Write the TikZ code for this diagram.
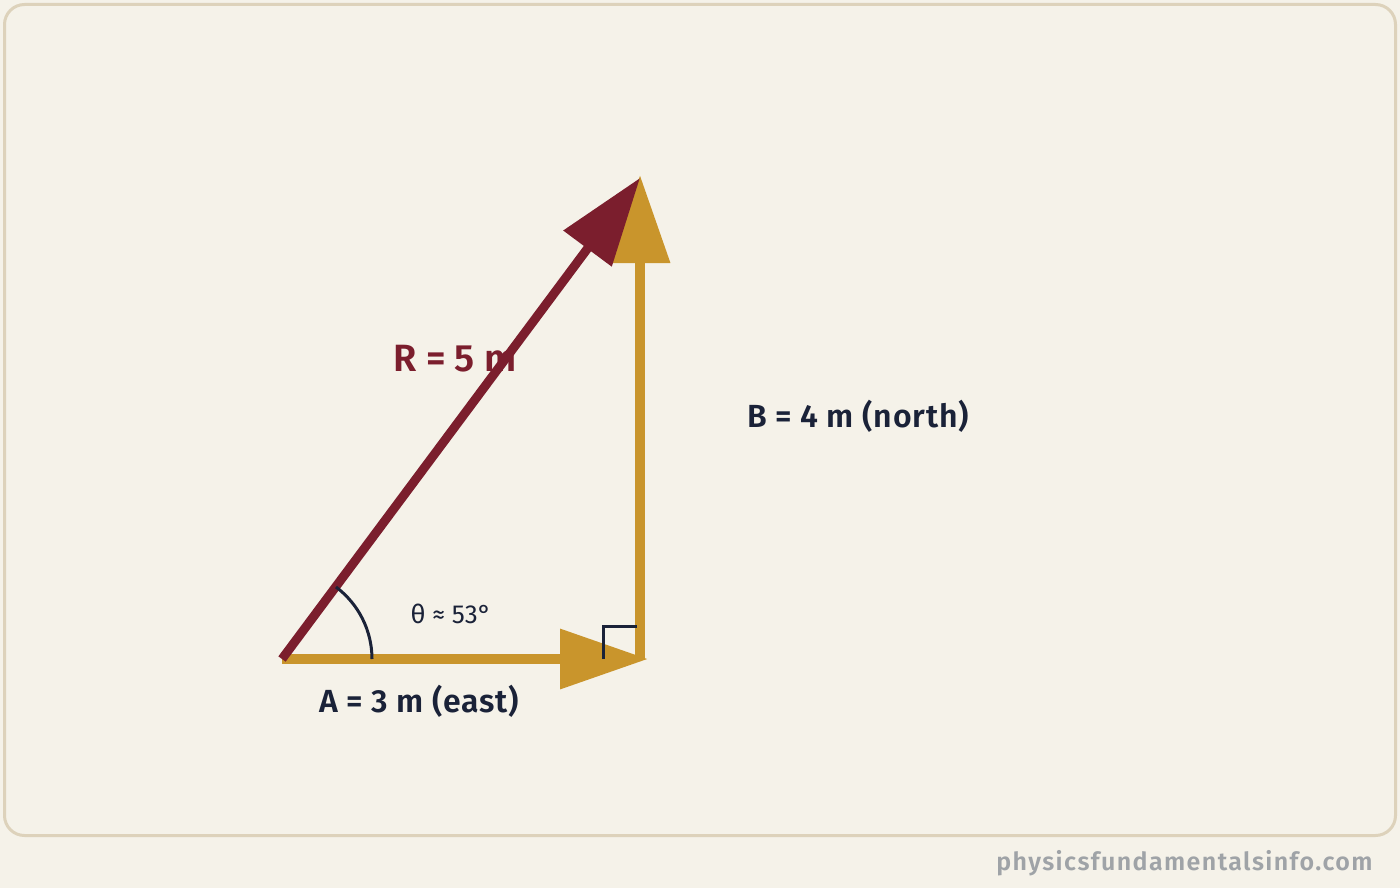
\documentclass[tikz,border=0pt]{standalone}
\usepackage{fontspec}
\setmainfont{Fira Sans}
\newfontfamily\semibold{Fira Sans SemiBold}
\newfontfamily\semiboldwide[LetterSpace=2.5]{Fira Sans SemiBold}
\newfontfamily\sitefont[LetterSpace=5.6]{Fira Sans SemiBold}
\usetikzlibrary{arrows.meta}
\definecolor{paper}{HTML}{F5F2E9}
\definecolor{frame}{HTML}{DDD2BB}
\definecolor{gold}{HTML}{C9952C}
\definecolor{wine}{HTML}{7B1E2D}
\definecolor{navy}{HTML}{1A2238}
\definecolor{mark}{HTML}{9FA3A7}
\tikzset{
  vec/.style={line width=5pt,-{Triangle[length=44pt,width=29pt]}},
  label/.style={font=\semiboldwide\fontsize{16}{18}\selectfont,text=navy,inner sep=0pt}
}

\begin{document}
\begin{tikzpicture}[x=0.5pt,y=-0.5pt,>=latex]
% The page
\fill[paper] (0,0) rectangle (1400,888);
\useasboundingbox (0,0) rectangle (1400,888);
\draw[frame,line width=1.5pt,rounded corners=10pt] (4.5,4.5) rectangle (1395.5,835.5);
% The corners of the triangle
\coordinate (O) at (282,659);
\coordinate (P) at (640,659);
\coordinate (Q) at (640,178);
% The labels
\node[label,text=wine,font=\semibold\fontsize{19}{22}\selectfont] (lR) at (455,359) {R = 5 m};
\node[label] (lB) at (858,416) {B = 4 m (north)};
\node[label] (lA) at (419,701) {A = 3 m (east)};
\node[inner sep=0pt,text=navy,font=\fontsize{13}{15}\selectfont] (lth) at (451,614) {θ ≈ 53°};
% The vectors
\draw[vec,gold,shorten >=-4pt] (O) -- (P);
\draw[vec,gold,shorten >=-1.5pt] (P) -- (Q);
\draw[vec,wine,line width=4.5pt] (O) -- (Q);
% The angle and the right angle
\draw[navy,line width=1.5pt] ([xshift=45pt]O) arc[start angle=0,end angle=-53.13,radius=90];
\draw[navy,line width=1.5pt] ([xshift=-18.5pt]P) -- ++(0,-33) -- ++(34,0);
% The site
\node[anchor=east,inner sep=0pt,text=mark,font=\sitefont\fontsize{12.5}{14}\selectfont] (site) at (1373,863) {physicsfundamentalsinfo.com};
\end{tikzpicture}
\end{document}
